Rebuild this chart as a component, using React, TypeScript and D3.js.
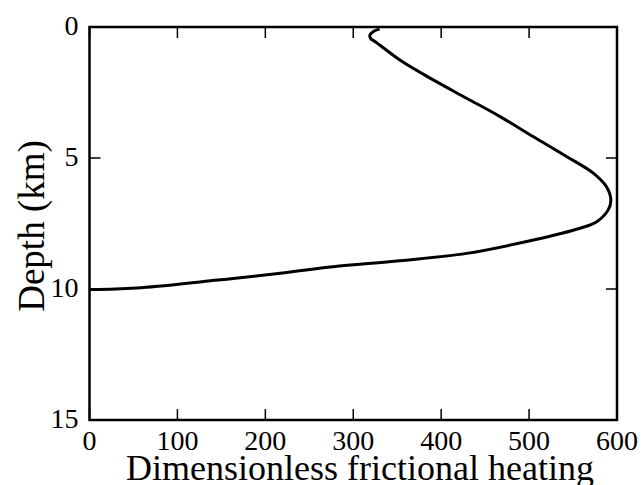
import React from "react";
import * as d3 from "d3";

const heating = [330, 324, 319, 320, 325, 353, 391, 429, 467, 505, 543, 573, 588, 593, 590, 577, 558, 505, 429, 353, 277, 222, 146, 59, 10, 0];
const depth = [0.08, 0.15, 0.3, 0.45, 0.56, 1.26, 2.02, 2.72, 3.42, 4.19, 4.95, 5.58, 6.1, 6.6, 6.98, 7.43, 7.68, 8.13, 8.64, 8.92, 9.15, 9.38, 9.66, 9.95, 10.02, 10.02];
const xTicks = [0, 100, 200, 300, 400, 500, 600];
const yTicks = [0, 5, 10, 15];

const W = 643, H = 485;
const m = { left: 89.5, right: 617, top: 27, bottom: 420 };
const font = "'Liberation Serif', 'Times New Roman', serif";

export default function App() {
  const x = d3.scaleLinear().domain([0, 600]).range([m.left, m.right]);
  const y = d3.scaleLinear().domain([0, 15]).range([m.top, m.bottom]);
  const pts: [number, number][] = heating.map((h, i) => [h, depth[i]]);
  const line = d3.line<[number, number]>().x(d => x(d[0])).y(d => y(d[1])).curve(d3.curveCatmullRom.alpha(0.5));
  const tl = 11;
  return (
    <svg width={W} height={H} style={{ position: "absolute", left: 0, top: 0 }}>
      <rect width={W} height={H} fill="#fff" />
      <rect x={m.left} y={m.top} width={m.right - m.left} height={m.bottom - m.top} fill="none" stroke="#000" strokeWidth={2.5} />
      {xTicks.map(t => (
        <g key={"x" + t}>
          <line x1={x(t)} x2={x(t)} y1={m.top} y2={m.top + tl} stroke="#000" strokeWidth={1.5} />
          <line x1={x(t)} x2={x(t)} y1={m.bottom} y2={m.bottom - tl} stroke="#000" strokeWidth={1.5} />
          <text x={x(t)} y={m.bottom + 30} textAnchor="middle" fontFamily={font} fontSize={28}>{t}</text>
        </g>
      ))}
      {yTicks.map(t => (
        <g key={"y" + t}>
          <line x1={m.left} x2={m.left + tl} y1={y(t)} y2={y(t)} stroke="#000" strokeWidth={1.5} />
          <line x1={m.right} x2={m.right - tl} y1={y(t)} y2={y(t)} stroke="#000" strokeWidth={1.5} />
          <text x={m.left - 11} y={y(t) + 8} textAnchor="end" fontFamily={font} fontSize={28}>{t}</text>
        </g>
      ))}
      <path d={line(pts) || ""} fill="none" stroke="#000" strokeWidth={3} strokeLinejoin="round" />
      <text x={360} y={480} textAnchor="middle" fontFamily={font} fontSize={36}>Dimensionless frictional heating</text>
      <text transform={`translate(44, 226) rotate(-90)`} textAnchor="middle" fontFamily={font} fontSize={37}>Depth (km)</text>
    </svg>
  );
}
